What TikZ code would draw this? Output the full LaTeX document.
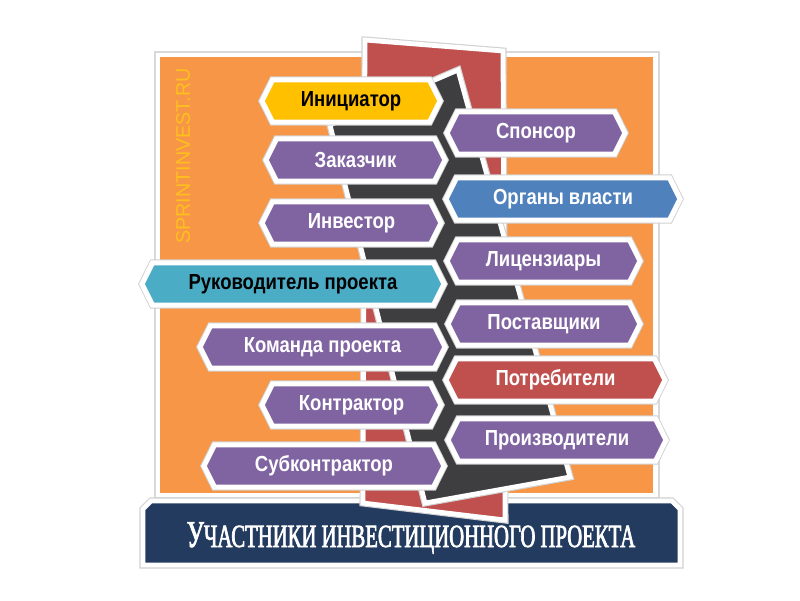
\documentclass[tikz,border=0pt]{standalone}
\usepackage{fontspec}
\setmainfont{Liberation Sans}
\newfontfamily\labelfont{Liberation Sans}[FakeStretch=0.85]
\newfontfamily\bannerfont{Liberation Serif}[FakeStretch=0.64,FakeBold=2]
\usepackage{tikz}
\usetikzlibrary{shapes.symbols}
\definecolor{investorange}{RGB}{247,150,70}
\definecolor{investpurple}{RGB}{128,100,162}
\definecolor{investyellow}{RGB}{255,192,0}
\definecolor{investblue}{RGB}{79,129,189}
\definecolor{investteal}{RGB}{75,172,198}
\definecolor{investred}{RGB}{192,80,77}
\definecolor{investnavy}{RGB}{36,59,96}
\definecolor{investdark}{RGB}{62,62,64}
\definecolor{investgold}{RGB}{255,192,30}

\begin{document}
\begin{tikzpicture}[x=0.025cm, y=-0.025cm,
  rim/.style={preaction={draw=black!18, line width=5pt}},
  hexbox/.style={signal, signal to=west and east, signal pointer angle=127,
    minimum height=1.06cm, inner sep=0pt, draw=white, line width=3.6pt, rim,
    fill=investpurple, text=white, font=\labelfont\bfseries\fontsize{15.5}{18}\selectfont},
  band/.style={draw=white, line width=3.4pt, rim}]
\useasboundingbox (0,0) rectangle (800,600);
% frame
\draw[draw=black!15, line width=0.8pt, fill=white] (155,52) rectangle (659,498);
\fill[investorange] (160,57) rectangle (653,493);
\node[rotate=90, text=investgold, font=\fontsize{14}{16}\selectfont] (site) at (183,156) {SPRINTINVEST.RU};
% banner
\draw[band, fill=investnavy] (143,509) -- (151,501) -- (672,501) -- (680,509) -- (680,565) -- (143,565) -- cycle;
\node[text=white, font=\bannerfont\fontsize{23}{26}\selectfont] (title) at (411,538)
  {{\fontsize{27}{28}\selectfont У}ЧАСТНИКИ ИНВЕСТИЦИОННОГО ПРОЕКТА};
% road behind the boxes
\draw[band, fill=investred] (365,40) -- (503,51) -- (505,520) -- (363,503) -- cycle;
\draw[band, fill=investdark] (330,125) -- (458,70) -- (570,477) -- (425,503) -- cycle;
% left column
\node[hexbox, fill=investyellow, text=black, minimum width=4.45cm] (initiator) at (351,101) {Инициатор};
\node[hexbox, minimum width=4.475cm] (customer) at (355.5,160) {Заказчик};
\node[hexbox, minimum width=4.475cm] (investor) at (351.5,223) {Инвестор};
\node[hexbox, fill=investteal, text=black, minimum width=7.55cm] (manager) at (293,284) {Руководитель проекта};
\node[hexbox, minimum width=6.125cm] (team) at (322.5,347) {Команда проекта};
\node[hexbox, minimum width=4.475cm] (contractor) at (351.5,405) {Контрактор};
\node[hexbox, minimum width=6cm] (subcontractor) at (324,466) {Субконтрактор};
% right column
\node[hexbox, minimum width=4.45cm] (sponsor) at (536,133) {Спонсор};
\node[hexbox, fill=investblue, minimum width=5.85cm] (authority) at (563,199) {Органы власти};
\node[hexbox, minimum width=4.825cm] (licensor) at (543.5,261) {Лицензиары};
\node[hexbox, minimum width=4.8cm] (supplier) at (544,324) {Поставщики};
\node[hexbox, fill=investred, minimum width=5.475cm] (consumer) at (555.5,380) {Потребители};
\node[hexbox, minimum width=5.45cm] (producer) at (557,440) {Производители};
\end{tikzpicture}
\end{document}
